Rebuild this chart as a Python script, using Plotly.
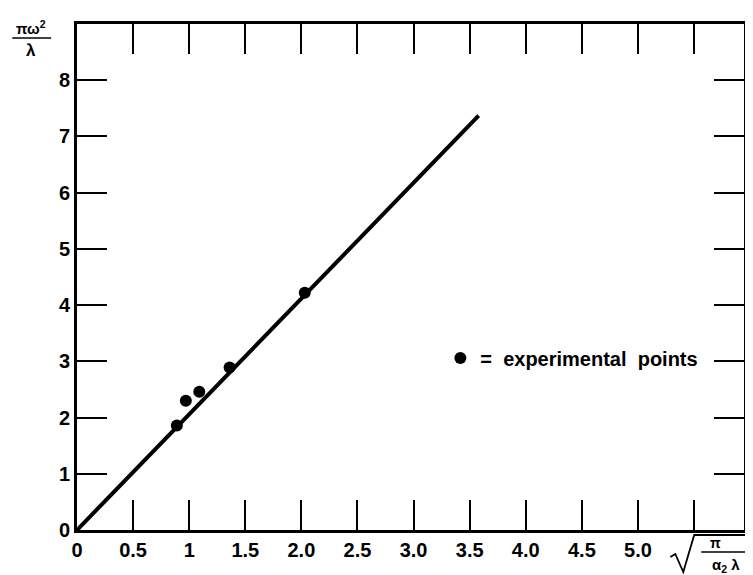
import plotly.graph_objects as go

# Data
points_x = [0.89, 0.97, 1.09, 1.36, 2.03]
points_y = [1.86, 2.30, 2.46, 2.89, 4.22]
fit_x = [0.0, 3.58]
fit_y = [0.0, 7.37]

x_tickvals = [0, 0.5, 1, 1.5, 2, 2.5, 3, 3.5, 4, 4.5, 5, 5.5]
x_ticktext = ["0", "0.5", "1", "1.5", "2.0", "2.5", "3.0", "3.5", "4.0", "4.5", "5.0", ""]
y_tickvals = [0, 1, 2, 3, 4, 5, 6, 7, 8]
y_ticktext = ["0", "1", "2", "3", "4", "5", "6", "7", "8"]

FONT = "Liberation Sans, Arial, sans-serif"

# page layout (the page is drawn with an 8px body offset)
OFF = 8
PL, PT, PR, PB = 77, 24, 747, 530  # plot area in page pixels
X_MAX = (PR - PL) / 112.7  # ~112.7 px per unit on x in the reference


def px(x):
    return (x - PL) / (PR - PL)


def py(y):
    return (PB - y) / (PB - PT)


fig = go.Figure()
fig.add_trace(go.Scatter(x=fit_x, y=fit_y, mode="lines",
                         line=dict(color="black", width=4),
                         showlegend=False, hoverinfo="skip"))
fig.add_trace(go.Scatter(x=points_x, y=points_y, mode="markers",
                         marker=dict(color="black", size=12),
                         name="=  experimental  points", showlegend=True))

axis_common = dict(showline=True, linecolor="black", linewidth=3, mirror="ticks",
                   ticks="inside", ticklen=30, tickwidth=1.6, tickcolor="black",
                   showgrid=False, zeroline=False,
                   tickfont=dict(family=FONT, size=20, color="black", weight="bold"))

fig.update_xaxes(range=[0, X_MAX], tickvals=x_tickvals, ticktext=x_ticktext, **axis_common)
fig.update_yaxes(range=[0, 9], tickvals=y_tickvals, ticktext=y_ticktext, **axis_common)

lab_font = dict(family=FONT, size=15, color="black", weight="bold")

# y-axis label: fraction pi*omega^2 / lambda
fig.add_annotation(xref="paper", yref="paper", x=px(31), y=py(28), text="πω<sup>2</sup>",
                   showarrow=False, font=lab_font, xanchor="center", yanchor="middle")
fig.add_shape(type="line", xref="paper", yref="paper", x0=px(12), x1=px(51), y0=py(38), y1=py(38),
              line=dict(color="black", width=1.6))
fig.add_annotation(xref="paper", yref="paper", x=px(31), y=py(50), text="λ",
                   showarrow=False, font=dict(family=FONT, size=17, color="black", weight="bold"),
                   xanchor="center", yanchor="middle")

# x-axis label: sqrt(pi / (alpha_2 lambda))
sqrt_path = "M {},{} L {},{} L {},{} L {},{} L {},{}".format(
    px(673), py(557), px(678), py(554), px(686), py(572), px(697), py(535), px(753), py(535))
fig.add_shape(type="path", xref="paper", yref="paper", path=sqrt_path,
              line=dict(color="black", width=1.8))
fig.add_annotation(xref="paper", yref="paper", x=px(718), y=py(543), text="π",
                   showarrow=False, font=dict(family=FONT, size=14, color="black", weight="bold"),
                   xanchor="center", yanchor="middle")
fig.add_shape(type="line", xref="paper", yref="paper", x0=px(704), x1=px(753), y0=py(552), y1=py(552),
              line=dict(color="black", width=1.6))
fig.add_annotation(xref="paper", yref="paper", x=px(729), y=py(565), text="α<sub>2</sub> λ",
                   showarrow=False, font=dict(family=FONT, size=15, color="black", weight="bold"),
                   xanchor="center", yanchor="middle")

fig.update_layout(
    width=753 - OFF, height=575 - OFF,
    margin=dict(l=PL - OFF, r=(753 - OFF) - (PR - OFF), t=PT - OFF, b=(575 - OFF) - (PB - OFF)),
    paper_bgcolor="white", plot_bgcolor="white",
    legend=dict(x=px(442), y=py(358), xanchor="left", yanchor="middle",
                bgcolor="rgba(0,0,0,0)", itemwidth=30,
                font=dict(family=FONT, size=20, color="black", weight="bold")),
)

fig.write_html("out.html")
